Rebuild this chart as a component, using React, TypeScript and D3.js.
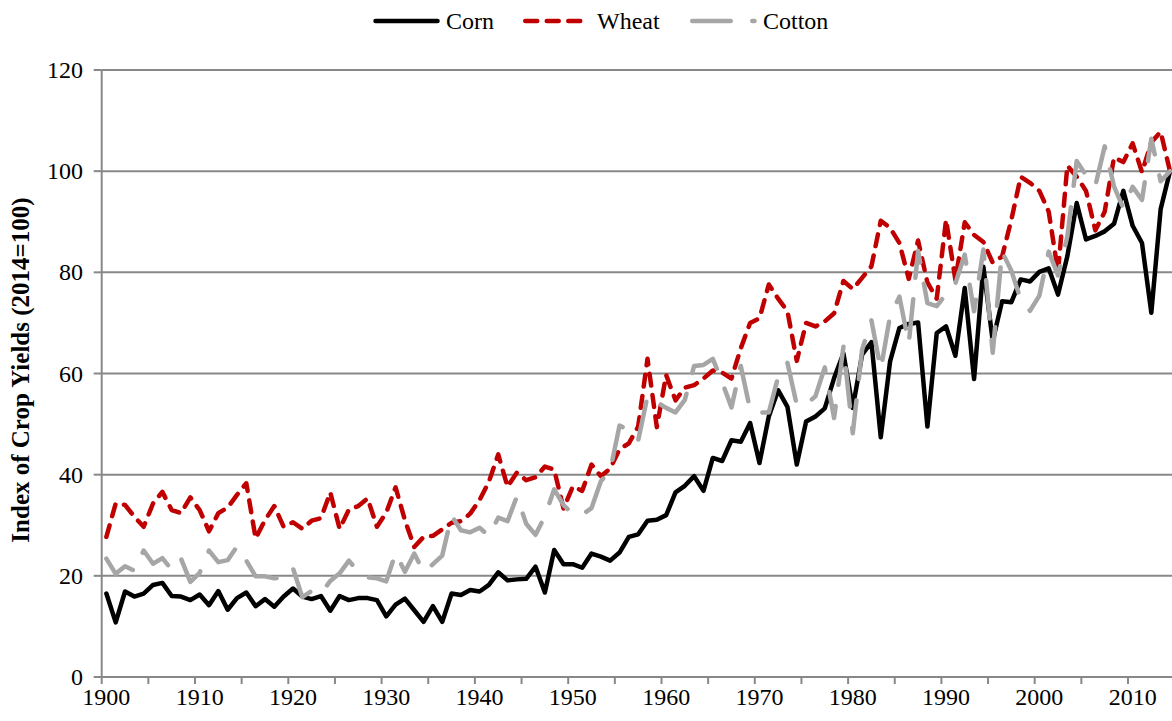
import React from "react";
import * as d3 from "d3";

const YEARS: number[] = d3.range(1900, 2015);

const CORN: number[] = [
  16.5, 10.8, 16.9, 15.9, 16.5, 18.2, 18.6, 16.0, 15.9, 15.2,
  16.3, 14.2, 17.0, 13.3, 15.6, 16.7, 14.0, 15.4, 13.9, 15.9,
  17.5, 15.9, 15.4, 16.0, 13.1, 16.0, 15.2, 15.6, 15.6, 15.2,
  12.0, 14.3, 15.5, 13.2, 10.9, 14.0, 10.9, 16.5, 16.2, 17.2,
  16.9, 18.2, 20.7, 19.1, 19.3, 19.4, 21.8, 16.7, 25.1, 22.3,
  22.3, 21.6, 24.4, 23.8, 23.0, 24.6, 27.7, 28.2, 30.9, 31.1,
  32.0, 36.5, 37.8, 39.7, 36.8, 43.3, 42.7, 46.8, 46.5, 50.2,
  42.3, 51.5, 56.7, 53.4, 42.0, 50.5, 51.5, 53.1, 59.1, 64.0,
  53.2, 63.7, 66.2, 47.4, 62.4, 69.0, 69.8, 70.1, 49.5, 68.0,
  69.3, 63.5, 76.9, 58.9, 81.1, 66.4, 74.3, 74.1, 78.6, 78.2,
  80.1, 80.8, 75.6, 83.2, 93.7, 86.5, 87.2, 88.1, 89.6, 96.1,
  89.2, 85.8, 72.0, 92.5, 100,
];

const WHEAT: number[] = [
  27.7, 34.3, 34.0, 31.7, 29.7, 34.3, 36.6, 33.0, 32.4, 35.5,
  33.0, 28.8, 32.4, 33.5, 36.0, 38.3, 27.4, 31.0, 33.8, 29.7,
  30.6, 29.3, 30.9, 31.4, 36.5, 29.3, 33.1, 33.8, 35.3, 29.7,
  32.5, 37.5, 31.0, 25.7, 27.7, 27.9, 29.2, 30.5, 30.8, 32.3,
  35.0, 38.6, 44.0, 37.6, 40.4, 38.9, 39.5, 41.6, 41.0, 33.3,
  37.7, 36.8, 42.0, 39.7, 41.2, 45.0, 46.2, 49.5, 62.9, 49.4,
  59.7, 54.7, 57.2, 57.7, 59.0, 60.6, 60.2, 59.0, 65.0, 70.0,
  70.9, 77.6, 74.8, 72.3, 62.5, 70.0, 69.3, 70.3, 71.9, 78.3,
  76.7, 78.9, 81.2, 90.2, 88.8, 85.8, 78.7, 86.3, 78.0, 74.8,
  90.4, 78.5, 89.9, 87.4, 86.0, 81.9, 83.1, 90.4, 98.9, 97.7,
  96.1, 92.0, 80.1, 101.1, 98.9, 96.1, 88.3, 92.0, 102.7, 101.8,
  105.5, 99.8, 105.7, 107.8, 100,
];

const COTTON: number[] = [
  23.4, 20.4, 21.9, 21.0, 25.0, 22.4, 23.5, 21.2, 23.4, 18.8,
  20.6, 25.0, 22.7, 23.1, 25.8, 23.0, 19.9, 19.9, 19.5, 19.7,
  21.5, 15.8, 17.0, 16.5, 19.0, 20.5, 23.0, 20.8, 19.7, 19.5,
  18.9, 24.5, 20.8, 24.4, 20.8, 22.3, 24.0, 31.9, 29.0, 28.6,
  29.5, 27.9, 31.5, 30.8, 35.7, 30.3, 28.1, 31.8, 37.1, 34.0,
  32.2, 32.1, 33.4, 38.7, 40.8, 49.7, 48.8, 46.8, 55.5, 54.3,
  53.2, 52.3, 54.8, 61.5, 61.7, 62.9, 58.3, 53.3, 61.5, 52.8,
  52.3, 52.3, 59.3, 62.1, 53.8, 53.9, 55.5, 61.2, 51.2, 65.3,
  48.2, 64.7, 70.5, 60.8, 71.4, 75.2, 65.9, 84.2, 73.9, 73.3,
  75.7, 77.8, 83.5, 72.3, 84.5, 64.1, 84.1, 80.3, 74.6, 72.4,
  75.4, 84.1, 79.4, 87.1, 102.0, 99.2, 97.1, 104.9, 97.0, 92.7,
  96.9, 94.3, 106.4, 98.0, 100,
];

const Y_TICKS: number[] = [0, 20, 40, 60, 80, 100, 120];
const X_LABEL_YEARS: number[] = d3.range(1900, 2015, 10);
const X_TICK_YEARS: number[] = d3.range(1900, 2015, 5);

const SERIES = [
  { name: "Corn", values: CORN, color: "#000000", dash: "none" },
  { name: "Wheat", values: WHEAT, color: "#C00000", dash: "12 9.5" },
  { name: "Cotton", values: COTTON, color: "#A6A6A6", dash: "38.5 21.5" },
];

const W = 1172;
const H = 721;
const FONT = "'Liberation Serif', 'Times New Roman', serif";
const GRID = "#888888";

export default function App() {
  const plotLeft = 101.7;
  const bandW = 9.33;
  const x = d3
    .scaleBand<number>()
    .domain(YEARS)
    .range([plotLeft, plotLeft + bandW * YEARS.length])
    .paddingInner(0)
    .paddingOuter(0);
  const y = d3.scaleLinear().domain([0, 120]).range([677, 70]);
  const cx = (yr: number) => (x(yr) as number) + x.bandwidth() / 2;
  const plotRight = plotLeft + bandW * YEARS.length;

  const line = d3
    .line<number>()
    .x((_, i) => cx(YEARS[i]))
    .y((v) => y(v));

  return (
    <svg
      width={W}
      height={H}
      style={{ position: "absolute", left: 0, top: 0, background: "#fff" }}
    >
      <rect x={0} y={0} width={W} height={H} fill="#fff" />
      {Y_TICKS.filter((t) => t > 0).map((t) => (
        <line
          key={"g" + t}
          x1={plotLeft}
          x2={plotRight}
          y1={y(t)}
          y2={y(t)}
          stroke={GRID}
          strokeWidth={2}
        />
      ))}
      <line x1={plotLeft} x2={plotLeft} y1={y(120)} y2={y(0)} stroke={GRID} strokeWidth={2} />
      {Y_TICKS.map((t) => (
        <g key={"yt" + t}>
          <line x1={plotLeft - 8} x2={plotLeft} y1={y(t)} y2={y(t)} stroke={GRID} strokeWidth={2} />
          <text
            x={83}
            y={y(t) + 8}
            textAnchor="end"
            fontFamily={FONT}
            fontSize={24}
            fill="#000"
          >
            {t}
          </text>
        </g>
      ))}
      <line x1={plotLeft} x2={plotRight} y1={y(0)} y2={y(0)} stroke={GRID} strokeWidth={2} />
      {X_TICK_YEARS.map((yr) => (
        <line
          key={"xt" + yr}
          x1={x(yr) as number}
          x2={x(yr) as number}
          y1={y(0)}
          y2={y(0) + 7}
          stroke={GRID}
          strokeWidth={2}
        />
      ))}
      {X_LABEL_YEARS.map((yr) => (
        <text
          key={"xl" + yr}
          x={cx(yr)}
          y={705}
          textAnchor="middle"
          fontFamily={FONT}
          fontSize={24}
          fill="#000"
        >
          {yr}
        </text>
      ))}
      {SERIES.map((s) => (
        <path
          key={s.name}
          d={line(s.values) || ""}
          fill="none"
          stroke={s.color}
          strokeWidth={4.5}
          strokeDasharray={s.dash}
          strokeLinecap="round"
          strokeLinejoin="round"
        />
      ))}
      <text
        transform={`translate(29, 370) rotate(-90)`}
        textAnchor="middle"
        fontFamily={FONT}
        fontWeight="bold"
        fontSize={25}
        fill="#000"
      >
        Index of Crop Yields (2014=100)
      </text>
      <g>
        <line x1={375.5} x2={437.5} y1={21} y2={21} stroke="#000" strokeWidth={4.5} strokeLinecap="round" />
        <text x={446} y={29} fontFamily={FONT} fontSize={24} fill="#000">Corn</text>
        <line x1={525.25} x2={583} y1={21} y2={21} stroke="#C00000" strokeWidth={4.5} strokeLinecap="round" strokeDasharray="12 9.5" />
        <text x={597} y={29} fontFamily={FONT} fontSize={24} fill="#000">Wheat</text>
        <line x1={692.25} x2={754.5} y1={21} y2={21} stroke="#A6A6A6" strokeWidth={4.5} strokeLinecap="round" strokeDasharray="38.5 21.5" />
        <text x={763} y={29} fontFamily={FONT} fontSize={24} fill="#000">Cotton</text>
      </g>
    </svg>
  );
}
